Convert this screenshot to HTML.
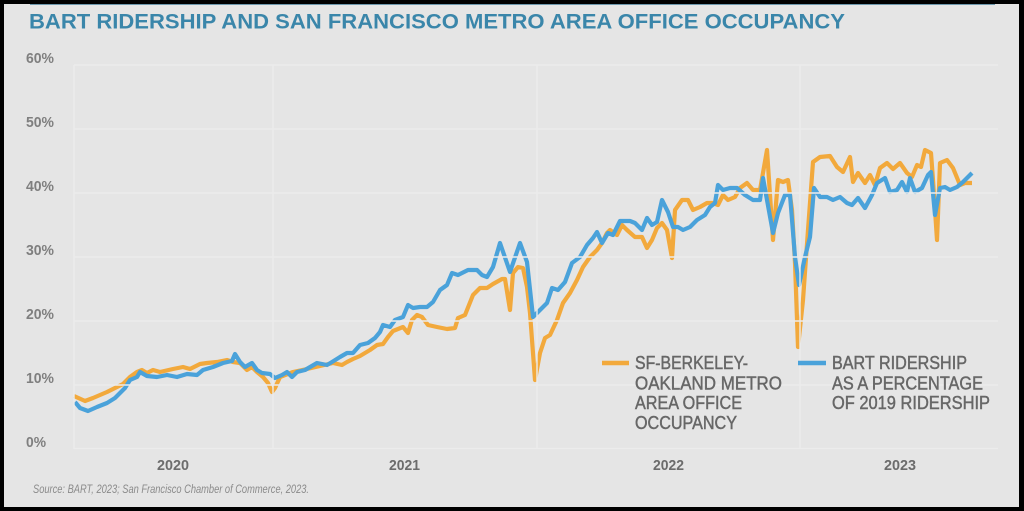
<!DOCTYPE html>
<html><head><meta charset="utf-8"><style>
html,body{margin:0;padding:0;background:#000;}
svg{display:block;}
text{font-family:"Liberation Sans",sans-serif;}
</style></head><body>
<svg width="1024" height="511" viewBox="0 0 1024 511" xmlns="http://www.w3.org/2000/svg">
<rect x="0" y="0" width="1024" height="511" fill="#000"/>
<rect x="4" y="4" width="1015" height="503" fill="#e5e5e5"/>
<line x1="30" y1="4.5" x2="995" y2="4.5" stroke="#6d98ad" stroke-width="1"/>
<text x="29" y="28.5" font-size="21" font-weight="bold" fill="#3a86aa" textLength="816" lengthAdjust="spacingAndGlyphs">BART RIDERSHIP AND SAN FRANCISCO METRO AREA OFFICE OCCUPANCY</text>

<g font-size="15" font-weight="bold" fill="#7f7f7f">
<text x="26" y="63" textLength="28" lengthAdjust="spacingAndGlyphs">60%</text>
<text x="26" y="127" textLength="28" lengthAdjust="spacingAndGlyphs">50%</text>
<text x="26" y="191" textLength="28" lengthAdjust="spacingAndGlyphs">40%</text>
<text x="26" y="255" textLength="28" lengthAdjust="spacingAndGlyphs">30%</text>
<text x="26" y="319" textLength="28" lengthAdjust="spacingAndGlyphs">20%</text>
<text x="26" y="383" textLength="28" lengthAdjust="spacingAndGlyphs">10%</text>
<text x="26" y="447" textLength="20" lengthAdjust="spacingAndGlyphs">0%</text>
</g>
<g font-size="15" font-weight="bold" fill="#6c6c6c">
<text x="157" y="470" textLength="32" lengthAdjust="spacingAndGlyphs">2020</text>
<text x="389" y="470" textLength="31" lengthAdjust="spacingAndGlyphs">2021</text>
<text x="653" y="470" textLength="31" lengthAdjust="spacingAndGlyphs">2022</text>
<text x="884" y="470" textLength="32" lengthAdjust="spacingAndGlyphs">2023</text>
</g>
<text x="33" y="493" font-size="11.5" font-style="italic" fill="#8a8a8a" textLength="276" lengthAdjust="spacingAndGlyphs">Source: BART, 2023; San Francisco Chamber of Commerce, 2023.</text>

<polyline fill="none" stroke="#f2a93c" stroke-width="4.2" stroke-linejoin="round" points="74,396 85,401 93,398 107,392 117,387 123,384 130,377 137,372 142,370 147,373 153,370 160,372 173,369 183,367 190,369 200,364 207,363 217,362 227,360 233,362 240,363 247,370 252,367 257,372 263,377 268,383 272,392 275,388 280,377 293,372 307,369 320,366 333,363 342,365 347,362 353,359 360,356 370,350 377,345 383,344 388,337 393,331 403,327 408,333 412,320 417,315 422,317 428,325 437,327 447,329 455,328 458,318 465,315 473,295 480,288 487,288 493,284 502,279 505,279 510,310 513,273 518,267 523,268 527,287 530,313 535,380 540,353 545,338 550,335 557,320 563,303 570,293 577,280 583,267 590,257 597,250 602,243 607,233 610,230 617,235 622,225 627,230 635,237 642,237 647,248 652,240 657,228 662,223 667,230 672,258 675,210 682,200 688,200 693,210 700,207 707,203 713,203 718,205 723,195 728,200 735,197 740,188 747,183 753,190 760,190 767,150 773,240 778,180 783,182 788,180 792,210 795,263 798,347 803,300 808,230 813,162 820,157 830,156 837,167 843,172 850,157 853,182 858,173 865,183 870,175 875,185 880,168 887,163 893,169 900,163 907,173 912,177 917,165 921,167 925,150 931,153 933,180 937,240 940,163 947,160 953,168 960,185 965,183 972,183"/>
<polyline fill="none" stroke="#4aa2da" stroke-width="4.2" stroke-linejoin="round" points="75,402 80,408 88,411 97,407 107,403 115,398 120,393 125,388 130,380 137,377 140,372 147,376 157,377 167,375 177,377 187,374 197,375 203,370 213,367 223,363 232,361 235,354 240,362 245,367 252,363 257,370 262,373 270,374 275,378 282,375 287,372 292,377 297,372 305,370 317,363 327,365 332,362 340,357 347,353 353,353 360,345 368,343 375,338 380,332 383,325 390,327 395,320 403,317 408,305 413,308 420,307 427,307 433,302 440,290 447,285 452,273 458,275 468,270 477,270 482,275 487,277 493,267 500,243 510,272 520,243 527,262 533,317 540,310 547,303 552,288 558,290 565,282 572,263 580,257 587,245 593,238 597,232 602,243 608,233 613,235 620,221 630,221 635,223 642,230 647,218 652,225 657,222 662,200 668,212 673,227 678,227 683,230 690,227 697,220 705,215 710,207 715,203 718,185 723,190 730,188 737,188 745,195 753,200 760,200 763,178 773,233 778,213 785,195 790,195 795,257 799,285 805,257 810,237 814,188 820,197 827,197 833,200 840,197 847,203 852,205 858,198 865,208 872,195 877,183 885,178 890,192 897,190 902,182 907,192 910,178 915,192 922,188 928,175 931,172 935,215 940,188 945,187 950,190 957,187 963,182 972,173"/>

<g stroke="#ececec" stroke-width="1.4">
<line x1="74" y1="65" x2="998" y2="65"/>
<line x1="74" y1="129" x2="998" y2="129"/>
<line x1="74" y1="193" x2="998" y2="193"/>
<line x1="74" y1="257" x2="998" y2="257"/>
<line x1="74" y1="321" x2="998" y2="321"/>
<line x1="74" y1="385" x2="998" y2="385"/>
<line x1="74" y1="448.5" x2="998" y2="448.5"/>
<line x1="74" y1="65" x2="74" y2="449"/>
<line x1="273" y1="65" x2="273" y2="449"/>
<line x1="537" y1="65" x2="537" y2="449"/>
<line x1="800" y1="65" x2="800" y2="449"/>
</g>

<line x1="602" y1="363" x2="629" y2="363" stroke="#f2a93c" stroke-width="4.5"/>
<line x1="798" y1="363" x2="826" y2="363" stroke="#4aa2da" stroke-width="4.5"/>
<g font-size="18" fill="#676767" stroke="#676767" stroke-width="0.45">
<text x="635" y="369" textLength="113" lengthAdjust="spacingAndGlyphs">SF-BERKELEY-</text>
<text x="635" y="389.5" textLength="147" lengthAdjust="spacingAndGlyphs">OAKLAND METRO</text>
<text x="635" y="409" textLength="107" lengthAdjust="spacingAndGlyphs">AREA OFFICE</text>
<text x="635" y="429" textLength="102" lengthAdjust="spacingAndGlyphs">OCCUPANCY</text>
<text x="832" y="369" textLength="135" lengthAdjust="spacingAndGlyphs">BART RIDERSHIP</text>
<text x="832" y="389.5" textLength="151" lengthAdjust="spacingAndGlyphs">AS A PERCENTAGE</text>
<text x="832" y="409" textLength="158" lengthAdjust="spacingAndGlyphs">OF 2019 RIDERSHIP</text>
</g>
</svg>
</body></html>
